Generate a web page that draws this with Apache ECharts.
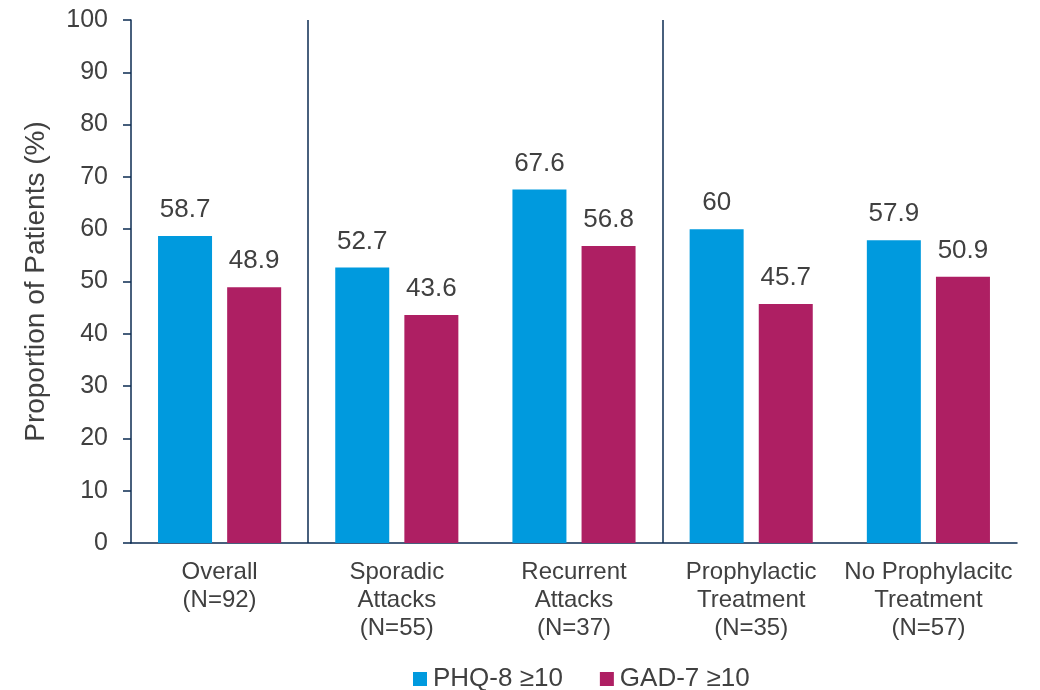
<!DOCTYPE html>
<html><head><meta charset="utf-8">
<script src="https://cdn.jsdelivr.net/npm/echarts@6/dist/echarts.min.js"></script>
<style>html,body{margin:0;padding:0;background:#fff}#c{width:1040px;height:690px}</style>
</head><body><div id="c"></div>
<script>
const categories = ['Overall\n(N=92)', 'Sporadic\nAttacks\n(N=55)', 'Recurrent\nAttacks\n(N=37)', 'Prophylactic\nTreatment\n(N=35)', 'No Prophylacitc\nTreatment\n(N=57)'];
const phq8 = [58.7, 52.7, 67.6, 60, 57.9];
const gad7 = [48.9, 43.6, 56.8, 45.7, 50.9];
const yTicks = [0, 10, 20, 30, 40, 50, 60, 70, 80, 90, 100];
const separatorAfter = [1, 3];

const textColor = '#404040';
const axisColor = '#0B2B52';
const font = '"Liberation Sans", Arial, sans-serif';

const chart = echarts.init(document.getElementById('c'));
const labelCfg = {show: true, position: 'top', distance: 13, color: textColor, fontSize: 26, fontFamily: font};
chart.setOption({
  animation: false,
  grid: {left: 131, right: 23, top: 20, bottom: 147},
  legend: {
    data: ['PHQ-8 ≥10', 'GAD-7 ≥10'],
    top: 661, left: 408, itemWidth: 14, itemHeight: 14, itemGap: 37,
    icon: 'rect',
    textStyle: {color: textColor, fontSize: 26, fontFamily: font, padding: [0, 0, 0, 1]}
  },
  xAxis: [{
    type: 'category', data: categories,
    axisLine: {lineStyle: {color: axisColor, width: 1.5}},
    axisTick: {show: false},
    axisLabel: {color: textColor, fontSize: 24, fontFamily: font, lineHeight: 28, margin: 15, interval: 0},
    splitLine: {show: false}
  }, {
    type: 'value', min: 0, max: categories.length, show: false
  }],
  yAxis: {
    type: 'value', min: yTicks[0], max: yTicks[yTicks.length - 1], interval: 10,
    name: 'Proportion of Patients (%)', nameLocation: 'middle', nameGap: 81, nameRotate: 90,
    nameTextStyle: {color: textColor, fontSize: 28, fontFamily: font},
    axisLine: {show: true, lineStyle: {color: axisColor, width: 1.5}},
    axisTick: {show: true, length: 8, lineStyle: {color: axisColor, width: 1.5}},
    axisLabel: {color: textColor, fontSize: 25, fontFamily: font, margin: 23},
    splitLine: {show: false}
  },
  series: [
    {name: 'PHQ-8 ≥10', type: 'bar', data: phq8, barWidth: 54, barGap: '28%', itemStyle: {color: '#009ADE'}, label: labelCfg},
    {name: 'GAD-7 ≥10', type: 'bar', data: gad7, barWidth: 54, itemStyle: {color: '#AE1F63'}, label: labelCfg},
    {name: 'separators', type: 'line', xAxisIndex: 1, data: [], silent: true,
      markLine: {symbol: 'none', silent: true, label: {show: false},
        lineStyle: {color: axisColor, width: 1.5, type: 'solid'},
        data: separatorAfter.map(v => ({xAxis: v}))}}
  ]
});
</script></body></html>
